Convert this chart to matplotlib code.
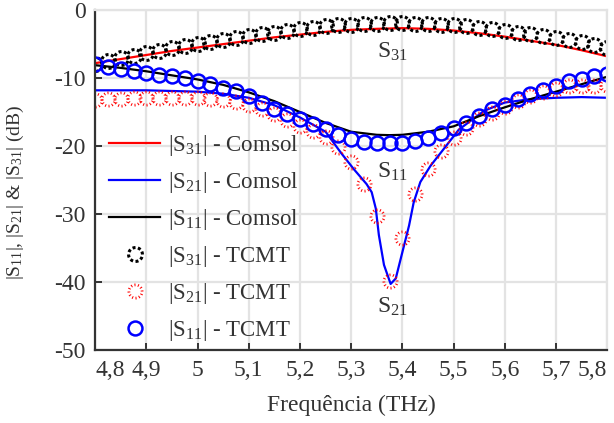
import matplotlib
matplotlib.use("Agg")
import matplotlib.pyplot as plt
import numpy as np
from matplotlib.path import Path

plt.rcParams['font.family'] = ['Liberation Serif', 'DejaVu Serif']
plt.rcParams['mathtext.fontset'] = 'custom'
plt.rcParams['mathtext.rm'] = 'Liberation Serif'
plt.rcParams['mathtext.it'] = 'Liberation Serif:italic'
plt.rcParams['axes.unicode_minus'] = False

# Comsol (curvas continuas)
f_s31 = [4.80, 4.85, 4.90, 4.95, 5.00, 5.05, 5.10, 5.15, 5.20, 5.25, 5.30,
         5.35, 5.40, 5.45, 5.50, 5.55, 5.60, 5.65, 5.70, 5.75, 5.80]
s31_comsol = [-7.8, -7.2, -6.6, -6.0, -5.5, -5.0, -4.5, -4.0, -3.6, -3.2, -2.9,
              -2.75, -2.65, -2.75, -3.0, -3.4, -3.9, -4.5, -5.1, -5.9, -6.8]

f_s21 = [4.80, 4.90, 5.00, 5.05, 5.10, 5.15, 5.20, 5.25, 5.28, 5.305, 5.33,
         5.34, 5.348, 5.354, 5.364, 5.377, 5.387, 5.40, 5.413, 5.422, 5.435,
         5.455, 5.48, 5.51, 5.533, 5.56, 5.60, 5.65, 5.70, 5.75, 5.80]
s21_comsol = [-11.8, -11.8, -12.0, -12.3, -12.9, -14.0, -15.8, -17.9, -21.0, -23.4, -25.6,
              -26.8, -29.2, -33.1, -37.5, -40.3, -39.5, -35.6, -31.7, -28.3, -25.3,
              -22.9, -20.5, -17.6, -16.3, -14.8, -13.6, -13.1, -12.9, -12.8, -12.9]

f_s11 = [4.80, 4.85, 4.90, 4.95, 5.00, 5.05, 5.10, 5.15, 5.20, 5.25, 5.30,
         5.35, 5.375, 5.40, 5.45, 5.50, 5.55, 5.60, 5.65, 5.70, 5.75, 5.80]
s11_comsol = [-8.1, -8.5, -9.0, -9.6, -10.2, -11.0, -12.1, -13.4, -15.0, -16.6, -17.9,
              -18.35, -18.4, -18.35, -17.9, -17.1, -15.6, -14.3, -13.1, -12.0, -10.9, -9.8]

# TCMT (pontos, passo 0.025 THz)
f_tcmt = [4.800, 4.825, 4.850, 4.875, 4.900, 4.925, 4.950, 4.975, 5.000, 5.025,
          5.050, 5.075, 5.100, 5.125, 5.150, 5.175, 5.200, 5.225, 5.250, 5.275,
          5.300, 5.325, 5.350, 5.375, 5.400, 5.425, 5.450, 5.475, 5.500, 5.525,
          5.550, 5.575, 5.600, 5.625, 5.650, 5.675, 5.700, 5.725, 5.750, 5.775, 5.800]
s31_tcmt = [-7.9, -7.5, -7.1, -6.7, -6.3, -6.0, -5.6, -5.3, -5.0, -4.7,
            -4.4, -4.1, -3.8, -3.5, -3.3, -3.0, -2.8, -2.6, -2.4, -2.25,
            -2.15, -2.05, -2.0, -1.95, -1.95, -2.0, -2.05, -2.15, -2.25, -2.4,
            -2.6, -2.8, -3.0, -3.3, -3.55, -3.8, -4.1, -4.4, -4.7, -5.1, -5.5]
s21_tcmt = [-13.2, -13.1, -13.1, -13.0, -13.0, -13.0, -13.0, -13.0, -13.0, -13.1,
            -13.2, -13.5, -13.9, -14.5, -15.3, -16.1, -17.0, -17.8, -18.6, -20.2,
            -22.4, -25.6, -30.3, -39.9, -33.6, -27.0, -23.4, -20.7, -18.8, -17.3,
            -16.0, -15.1, -14.2, -13.3, -12.6, -12.1, -11.6, -11.1, -11.2, -11.2, -11.0]
s11_tcmt = [-8.0, -8.3, -8.6, -9.0, -9.2, -9.5, -9.75, -10.0, -10.4, -10.8,
            -11.4, -11.9, -12.7, -13.6, -14.5, -15.3, -16.0, -16.8, -17.5, -18.4,
            -19.0, -19.4, -19.6, -19.6, -19.5, -19.25, -18.8, -18.1, -17.4, -16.6,
            -15.6, -14.6, -13.9, -13.1, -12.4, -11.7, -11.1, -10.5, -10.2, -9.75, -9.36]

xticks = [4.8, 4.9, 5.0, 5.1, 5.2, 5.3, 5.4, 5.5, 5.6, 5.7, 5.8]
xlabels = ['4,8', '4,9', '5', '5,1', '5,2', '5,3', '5,4', '5,5', '5,6', '5,7', '5,8']
yticks = [0, -10, -20, -30, -40, -50]
ylabels = ['0', '-10', '-20', '-30', '-40', '-50']


def anel(n, frac):
    # circulo tracejado/pontilhado como marcador
    verts, codes = [], []
    for k in range(n):
        t = np.linspace(2 * np.pi * k / n, 2 * np.pi * (k + frac) / n, 5)
        verts.extend(np.column_stack([np.cos(t), np.sin(t)]))
        codes.extend([Path.MOVETO] + [Path.LINETO] * 4)
    return Path(verts, codes)


tracejado = anel(8, 0.55)
pontilhado = anel(12, 0.3)

cinza = '#333333'
fig = plt.figure(figsize=(6.14, 4.23), dpi=100)
ax = fig.add_axes([0.155, 0.173, 0.834, 0.803])

ax.plot(f_s31, s31_comsol, color='red', lw=1.6, label='|S$_{31}$| - Comsol')
ax.plot(f_s21, s21_comsol, color='blue', lw=1.6, label='|S$_{21}$| - Comsol')
ax.plot(f_s11, s11_comsol, color='black', lw=1.6, label='|S$_{11}$| - Comsol')
ax.plot(f_tcmt, s31_tcmt, ls='none', marker=tracejado, ms=10, mew=2.2, color='black',
        label='|S$_{31}$| - TCMT')
ax.plot(f_tcmt, s21_tcmt, ls='none', marker=pontilhado, ms=9.5, mew=2.0, color='red',
        label='|S$_{21}$| - TCMT')
ax.plot(f_tcmt, s11_tcmt, ls='none', marker='o', ms=10, mew=1.8, mfc='none', color='blue',
        label='|S$_{11}$| - TCMT')

ax.text(5.35, -7.0, 'S$_{31}$', fontsize=17, color=cinza, ha='left', va='baseline')
ax.text(5.35, -24.6, 'S$_{11}$', fontsize=17, color=cinza, ha='left', va='baseline')
ax.text(5.35, -44.6, 'S$_{21}$', fontsize=17, color=cinza, ha='left', va='baseline')

ax.set_xlim(4.8, 5.8)
ax.set_ylim(-50, 0)
ax.set_xticks(xticks)
ax.set_xticklabels(xlabels)
ax.set_yticks(yticks)
ax.set_yticklabels(ylabels)
labs = ax.get_xticklabels()
labs[0].set_ha('left')
labs[-1].set_ha('right')

ax.grid(True, color='#e3e3e3', lw=1.6)
ax.set_axisbelow(True)
for s in ['top', 'right']:
    ax.spines[s].set_color('#e3e3e3')
    ax.spines[s].set_linewidth(1.6)
for s in ['left', 'bottom']:
    ax.spines[s].set_color(cinza)
    ax.spines[s].set_linewidth(1.6)
ax.tick_params(direction='in', length=5, width=1.4, color=cinza, labelcolor=cinza,
               labelsize=17, pad=7)

ax.set_xlabel('Frequência (THz)', fontsize=17, color=cinza, labelpad=10)
ax.set_ylabel('|S$_{11}$|, |S$_{21}$| & |S$_{31}$| (dB)', fontsize=14, color=cinza)
ax.yaxis.set_label_coords(-0.135, 0.465)

leg = ax.legend(loc='upper left', bbox_to_anchor=(0.01, 0.665), frameon=False,
                fontsize=16.5, handlelength=2.2, handletextpad=0.35, labelspacing=0.52,
                borderaxespad=0.0)
for t in leg.get_texts():
    t.set_color(cinza)

fig.savefig('out.png', dpi=100)
